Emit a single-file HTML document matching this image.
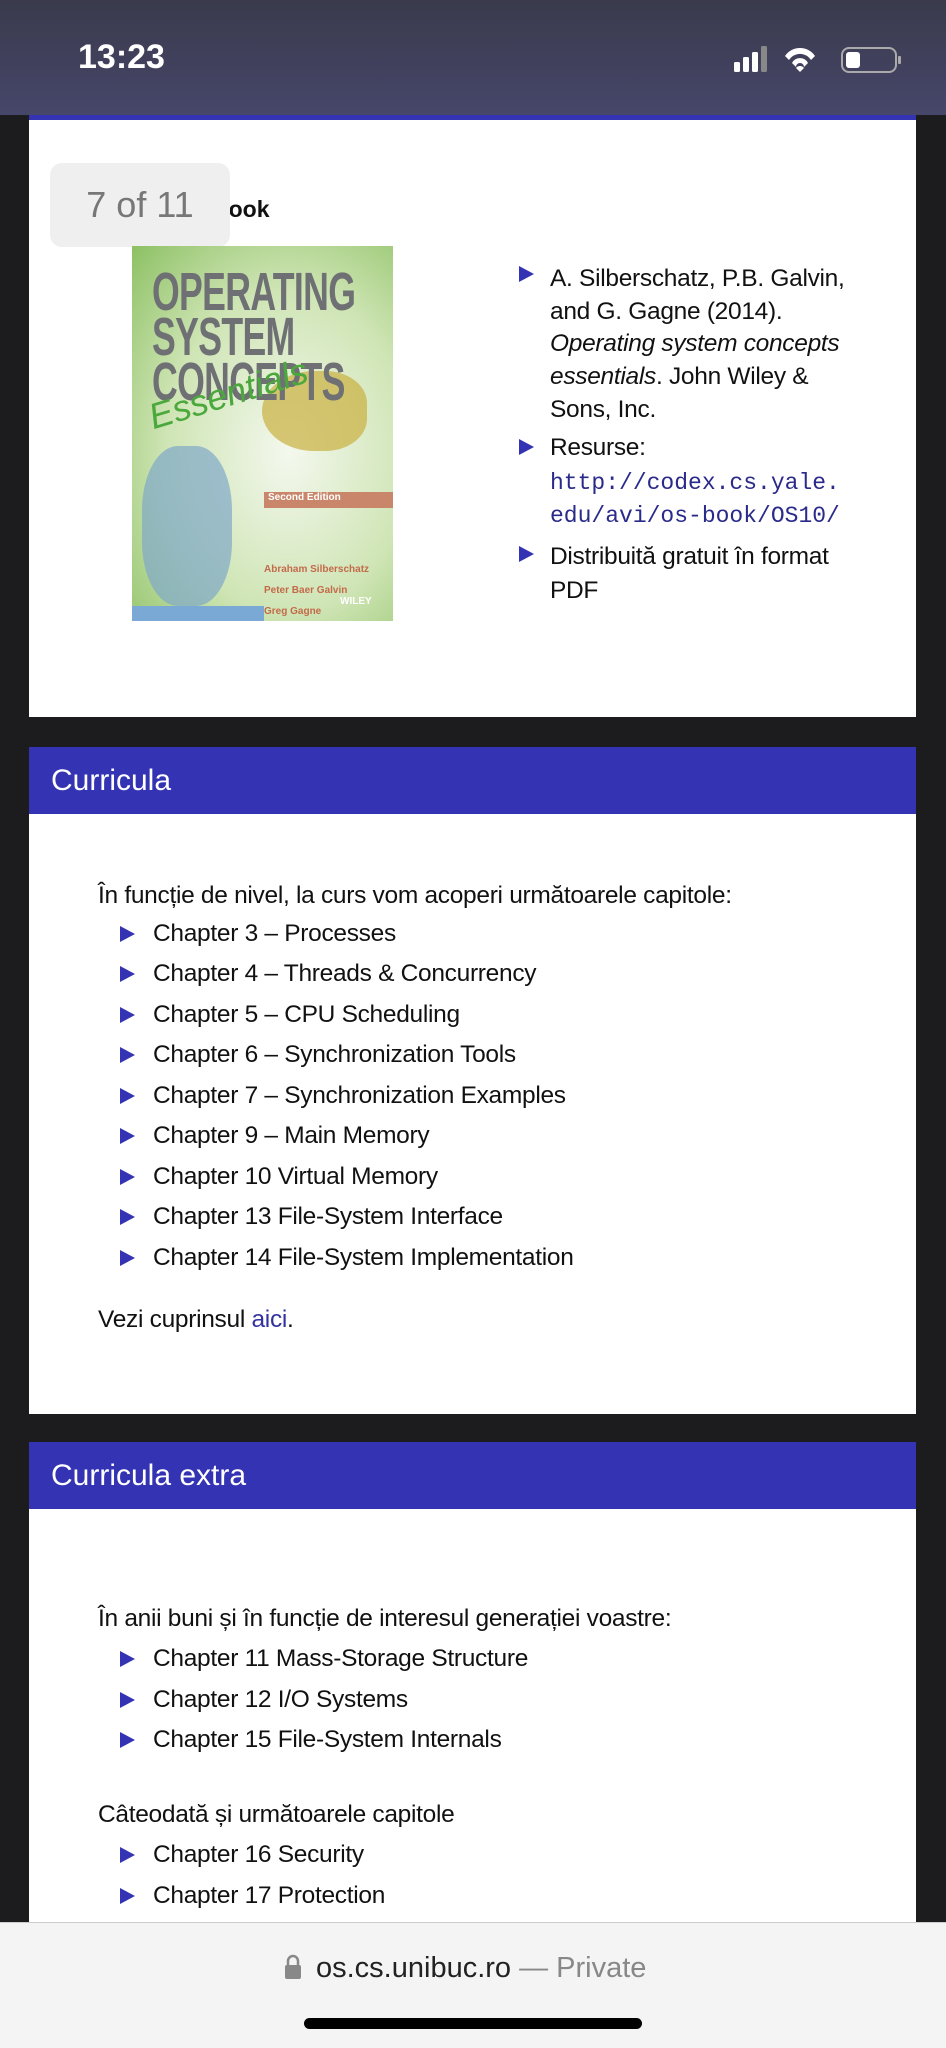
<!DOCTYPE html>
<html><head><meta charset="utf-8"><style>
*{margin:0;padding:0;box-sizing:border-box}
body{width:946px;height:2048px;background:#1c1c1e;position:relative;overflow:hidden;font-family:"Liberation Sans",sans-serif;color:#111}
.a{position:absolute;white-space:nowrap}
.t{font-size:24.5px;letter-spacing:-0.3px;line-height:30px}
.tri{position:absolute;width:0;height:0;border-top:8px solid transparent;border-bottom:8px solid transparent;border-left:15px solid #3333b3}
.hdr{position:absolute;left:29px;width:887px;height:67px;background:#3333b3;color:#fff;font-size:30px;padding-left:22px;line-height:67px}
.w{position:absolute;left:29px;width:887px;background:#fff}
.mono{font-family:"Liberation Mono",monospace;color:#2a2a8a;font-size:23px}
</style></head><body>
<div class="a" style="left:0;top:0;width:946px;height:115px;background:linear-gradient(#3a3a4c,#46466a)"></div>
<div class="a" style="left:78px;top:38px;color:#fff;font-size:34px;font-weight:bold">13:23</div>
<svg class="a" style="left:730px;top:44px" width="175" height="32">
<rect x="4" y="18" width="6" height="10" rx="1.5" fill="#fff"/><rect x="13" y="13" width="6" height="15" rx="1.5" fill="#fff"/><rect x="22" y="8" width="6" height="20" rx="1.5" fill="#fff"/><rect x="31" y="2" width="6" height="26" rx="1.5" fill="#888"/>
<path d="M55 12 A18 18 0 0 1 85 12 L81 16 A13 13 0 0 0 59 16Z M62 19 A9 9 0 0 1 78 19 L74 23 A4 4 0 0 0 66 23Z M70 28 L66 24 A5 5 0 0 1 74 24Z" fill="#fff"/>
<rect x="112" y="4" width="54" height="24" rx="7" fill="none" stroke="#aaa" stroke-width="2"/><rect x="116" y="8" width="14" height="16" rx="3" fill="#fff"/><rect x="168" y="12" width="3" height="8" rx="1" fill="#aaa"/>
</svg>
<div class="a" style="left:29px;top:115px;width:887px;height:5px;background:#3333b3"></div>
<div class="w" style="top:120px;height:597px"></div>
<div class="a" style="left:212px;top:196px;font-size:23px;font-weight:bold">Book</div>
<div class="a" style="left:50px;top:163px;width:180px;height:84px;background:#efefef;border-radius:12px;color:#777;font-size:36px;line-height:84px;text-align:center">7 of 11</div>
<div class="a" style="left:132px;top:246px;width:261px;height:375px;background:radial-gradient(ellipse at 60% 55%,#f4f8ee 0%,#cfe5b5 55%,#8cc063 100%);overflow:hidden">
<div class="a" style="left:130px;top:125px;width:105px;height:80px;background:#c9b040;border-radius:50% 40% 40% 50%;opacity:.7"></div>
<div class="a" style="left:10px;top:200px;width:90px;height:160px;background:#7fa8c8;border-radius:40%;opacity:.7"></div>
<div class="a" style="left:20px;top:24px;font-size:54px;font-weight:bold;color:#6e7074;line-height:45px;transform:scaleX(.66);transform-origin:left;letter-spacing:-1px">OPERATING<br>SYSTEM<br>CONCEPTS</div>
<div class="a" style="left:24px;top:150px;font-size:36px;color:#4aa83c;font-style:italic;transform:rotate(-17deg);transform-origin:left bottom">Essentials</div>
<div class="a" style="left:132px;top:246px;width:129px;height:16px;background:#c9866a;color:#fff;font-size:10px;padding-left:4px;font-weight:bold">Second Edition</div>
<div class="a" style="left:132px;top:313px;font-size:10px;color:#c36a4a;font-weight:bold;line-height:21px">Abraham Silberschatz<br>Peter Baer Galvin<br>Greg Gagne</div>
<div class="a" style="left:208px;top:350px;font-size:10px;color:#fff;font-weight:bold">WILEY</div>
<div class="a" style="left:0;top:360px;width:132px;height:15px;background:#7aa9d6"></div>
</div>
<div class="tri" style="left:519px;top:266px"></div>
<div class="a t" style="left:550px;top:263px;line-height:32.7px">A. Silberschatz, P.B. Galvin,<br>and G. Gagne (2014).<br><i>Operating system concepts</i><br><i>essentials</i>. John Wiley &amp;<br>Sons, Inc.</div>
<div class="tri" style="left:519px;top:439px"></div>
<div class="a t" style="left:550px;top:433px">Resurse:</div>
<div class="a mono" style="left:550px;top:467px;line-height:33px">http://codex.cs.yale.<br>edu/avi/os-book/OS10/</div>
<div class="tri" style="left:519px;top:546px"></div>
<div class="a t" style="left:550px;top:540px;line-height:34px">Distribuită gratuit în format<br>PDF</div>

<div class="hdr" style="top:747px">Curricula</div>
<div class="w" style="top:814px;height:600px"></div>
<div class="a t" style="left:98px;top:881px">În funcție de nivel, la curs vom acoperi următoarele capitole:</div>
<div class="tri" style="left:120px;top:926px"></div><div class="a t" style="left:153px;top:919px">Chapter 3 – Processes</div>
<div class="tri" style="left:120px;top:966px"></div><div class="a t" style="left:153px;top:959px">Chapter 4 – Threads &amp; Concurrency</div>
<div class="tri" style="left:120px;top:1007px"></div><div class="a t" style="left:153px;top:1000px">Chapter 5 – CPU Scheduling</div>
<div class="tri" style="left:120px;top:1047px"></div><div class="a t" style="left:153px;top:1040px">Chapter 6 – Synchronization Tools</div>
<div class="tri" style="left:120px;top:1088px"></div><div class="a t" style="left:153px;top:1081px">Chapter 7 – Synchronization Examples</div>
<div class="tri" style="left:120px;top:1128px"></div><div class="a t" style="left:153px;top:1121px">Chapter 9 – Main Memory</div>
<div class="tri" style="left:120px;top:1169px"></div><div class="a t" style="left:153px;top:1162px">Chapter 10 Virtual Memory</div>
<div class="tri" style="left:120px;top:1209px"></div><div class="a t" style="left:153px;top:1202px">Chapter 13 File-System Interface</div>
<div class="tri" style="left:120px;top:1250px"></div><div class="a t" style="left:153px;top:1243px">Chapter 14 File-System Implementation</div>
<div class="a t" style="left:98px;top:1305px">Vezi cuprinsul <span style="color:#3333a0">aici</span>.</div>

<div class="hdr" style="top:1442px">Curricula extra</div>
<div class="w" style="top:1509px;height:420px"></div>
<div class="a t" style="left:98px;top:1604px">În anii buni și în funcție de interesul generației voastre:</div>
<div class="tri" style="left:120px;top:1651px"></div><div class="a t" style="left:153px;top:1644px">Chapter 11 Mass-Storage Structure</div>
<div class="tri" style="left:120px;top:1692px"></div><div class="a t" style="left:153px;top:1685px">Chapter 12 I/O Systems</div>
<div class="tri" style="left:120px;top:1732px"></div><div class="a t" style="left:153px;top:1725px">Chapter 15 File-System Internals</div>
<div class="a t" style="left:98px;top:1800px">Câteodată și următoarele capitole</div>
<div class="tri" style="left:120px;top:1847px"></div><div class="a t" style="left:153px;top:1840px">Chapter 16 Security</div>
<div class="tri" style="left:120px;top:1888px"></div><div class="a t" style="left:153px;top:1881px">Chapter 17 Protection</div>

<div class="a" style="left:0;top:1922px;width:946px;height:126px;background:#f4f4f4;border-top:1px solid #ccc"></div>
<svg class="a" style="left:284px;top:1954px" width="18" height="26"><path d="M4 11 V7 A5 5 0 0 1 14 7 V11" fill="none" stroke="#888" stroke-width="2.5"/><rect x="1" y="11" width="16" height="14" rx="2" fill="#888"/></svg>
<div class="a" style="left:316px;top:1952px;font-size:29px;color:#222">os.cs.unibuc.ro <span style="color:#888">— Private</span></div>
<div class="a" style="left:304px;top:2018px;width:338px;height:11px;background:#000;border-radius:6px"></div>
</body></html>
